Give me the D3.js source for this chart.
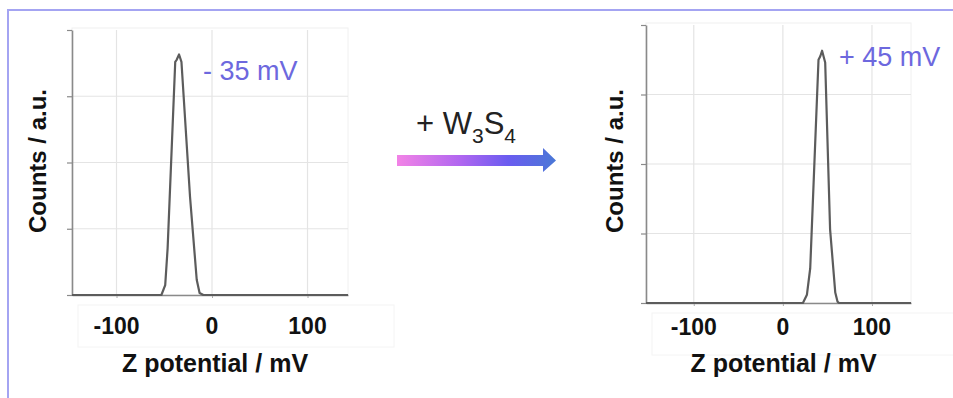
<!DOCTYPE html>
<html><head><meta charset="utf-8">
<script src="https://cdn.jsdelivr.net/npm/d3@7"></script>
<style>html,body{margin:0;padding:0;background:#fff;}svg{display:block;}</style>
</head><body>
<svg id="c" width="953" height="398"></svg>
<script>
// ---- data ----
const xTicks = [-100, 0, 100];
const yTicks = [0, 1, 2, 3, 4];
const beforeX = [-150, -53, -49, -46.5, -38.5, -37, -34.5, -32, -23, -16, -13, -9, 150];
const beforeY = [0, 0, 0.15, 0.7, 3.52, 3.55, 3.63, 3.52, 1.48, 0.23, 0.03, 0, 0];
const afterX = [-160, 22.5, 27, 30.7, 40, 42, 44, 47.5, 53, 58.8, 61.3, 63, 150];
const afterY = [0, 0, 0.12, 0.5, 3.5, 3.55, 3.63, 3.46, 1.06, 0.15, 0.02, 0, 0];
const labels = ["- 35 mV", "+ 45 mV"];
const xTitle = "Z potential / mV";
const yTitle = "Counts / a.u.";

const svg = d3.select("#c");
const FONT = "'Liberation Sans', Arial, sans-serif";

// frame
svg.append("path").attr("d", "M8,400 L8,10 L960,10")
  .attr("fill", "none").attr("stroke", "#a4a4f2").attr("stroke-width", 2);

const panels = [
  {xs: beforeX, ys: beforeY, label: labels[0], dom: [-146.6, 142.4], rx: [72, 348], ry: [295, 30],
   lab: [203, 80], ytx: 46, tickY: 334, titleY: 372},
  {xs: afterX, ys: afterY, label: labels[1], dom: [-153.6, 143.8], rx: [646, 911], ry: [303, 25],
   lab: [839, 66], ytx: 623, tickY: 335, titleY: 372}
];

panels.forEach(p => {
  const x = d3.scaleLinear().domain(p.dom).range(p.rx);
  const y = d3.scaleLinear().domain([0, 4]).range(p.ry);
  const g = svg.append("g");
  // faint tick label box
  g.append("rect").attr("x", p.rx[0] + 6).attr("y", p.ry[0] + 10)
    .attr("width", p.rx[1] - p.rx[0] + 40).attr("height", 42)
    .attr("fill", "none").attr("stroke", "#f4f4f4");
  // plot box
  g.append("rect").attr("x", p.rx[0]).attr("y", p.ry[1] - 2)
    .attr("width", p.rx[1] - p.rx[0]).attr("height", p.ry[0] - p.ry[1] + 2)
    .attr("fill", "none").attr("stroke", "#f0f0f0");
  // grid
  g.selectAll(".vg").data(xTicks).join("line")
    .attr("x1", d => x(d)).attr("x2", d => x(d)).attr("y1", p.ry[1]).attr("y2", p.ry[0])
    .attr("stroke", "#e4e4e4").attr("stroke-width", 1.2);
  g.selectAll(".hg").data(yTicks.slice(1, 4)).join("line")
    .attr("x1", p.rx[0]).attr("x2", p.rx[1]).attr("y1", d => y(d)).attr("y2", d => y(d))
    .attr("stroke", "#e4e4e4").attr("stroke-width", 1.2);
  // axes
  const ya = g.append("g").attr("transform", `translate(${p.rx[0]},0)`)
    .call(d3.axisLeft(y).tickValues(yTicks).tickFormat("").tickSize(5).tickSizeOuter(0));
  ya.select(".domain").attr("stroke", "#8a8a8a").attr("stroke-width", 1.6);
  ya.selectAll(".tick line").attr("stroke", "#8a8a8a").attr("stroke-width", 1.2);
  const xa = g.append("g").attr("transform", `translate(0,${p.ry[0]})`)
    .call(d3.axisBottom(x).tickValues(xTicks).tickFormat("").tickSize(3).tickSizeOuter(0));
  xa.select(".domain").attr("stroke", "#8a8a8a").attr("stroke-width", 1.6);
  xa.selectAll(".tick line").attr("stroke", "#aaa");
  // tick labels
  g.selectAll(".tl").data(xTicks).join("text")
    .attr("x", d => x(d)).attr("y", p.tickY).attr("text-anchor", "middle")
    .attr("font-family", FONT).attr("font-weight", "bold").attr("font-size", 23)
    .attr("fill", "#111").text(d => d);
  // titles
  g.append("text").attr("x", (p.rx[0] + p.rx[1]) / 2 + 5).attr("y", p.titleY)
    .attr("text-anchor", "middle").attr("font-family", FONT).attr("font-weight", "bold")
    .attr("font-size", 25).attr("fill", "#111").text(xTitle);
  g.append("text").attr("transform", `translate(${p.ytx},161) rotate(-90)`)
    .attr("text-anchor", "middle").attr("font-family", FONT).attr("font-weight", "bold")
    .attr("font-size", 24).attr("fill", "#111").text(yTitle);
  // curve
  const pts = p.xs.map((v, i) => [v, p.ys[i]]);
  const clipId = "clip" + p.rx[0];
  svg.append("clipPath").attr("id", clipId).append("rect")
    .attr("x", p.rx[0]).attr("y", 0).attr("width", p.rx[1] - p.rx[0]).attr("height", 398);
  g.append("path").datum(pts).attr("clip-path", `url(#${clipId})`)
    .attr("d", d3.line().x(d => x(d[0])).y(d => y(d[1])))
    .attr("fill", "none").attr("stroke", "#5c5c5c").attr("stroke-width", 2.2)
    .attr("stroke-linejoin", "round");
  // label
  g.append("text").attr("x", p.lab[0]).attr("y", p.lab[1])
    .attr("font-family", FONT).attr("font-size", 27).attr("fill", "#6d68de").text(p.label);
});

// arrow
const defs = svg.append("defs");
const gr = defs.append("linearGradient").attr("id", "ag").attr("x1", "0%").attr("x2", "100%");
gr.append("stop").attr("offset", "0%").attr("stop-color", "#f283e6");
gr.append("stop").attr("offset", "40%").attr("stop-color", "#b066f0");
gr.append("stop").attr("offset", "70%").attr("stop-color", "#6a5cf0");
gr.append("stop").attr("offset", "100%").attr("stop-color", "#4a78d6");
svg.append("path")
  .attr("d", "M397,155 L543,155 L543,148 L556,160.5 L543,172 L543,166 L397,166 Z")
  .attr("fill", "url(#ag)");
const t = svg.append("text").attr("x", 416).attr("y", 134)
  .attr("font-family", FONT).attr("font-size", 31).attr("fill", "#222");
t.append("tspan").text("+ W");
t.append("tspan").attr("font-size", 21).attr("dy", 9).text("3");
t.append("tspan").attr("dy", -9).text("S");
t.append("tspan").attr("font-size", 21).attr("dy", 9).text("4");
</script>
</body></html>
